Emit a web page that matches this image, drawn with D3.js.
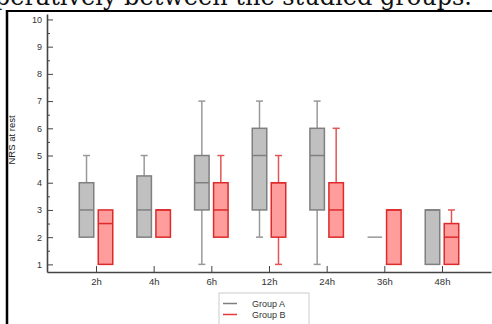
<!DOCTYPE html>
<html>
<head>
<meta charset="utf-8">
<title>NRS at rest boxplot</title>
<script src="https://d3js.org/d3.v7.min.js"></script>
<style>
  body { margin: 0; background: #fff; }
  svg { display: block; font-family: "Liberation Sans", Arial, sans-serif; }
  .axis text { font-size: 9px; fill: #333; }
  .axis path, .axis line { stroke: #444; }
</style>
</head>
<body>
<svg id="chart" width="492" height="324"></svg>
<script>
// time points on the x axis
const times = ["2h", "4h", "6h", "12h", "24h", "36h", "48h"];
const groups = ["Group A", "Group B"];
const yTicks = [1, 2, 3, 4, 5, 6, 7, 8, 9, 10];

// five number summaries: [min, q1, median, q3, max]
const groupA = [
  [2, 2, 3, 4, 5],
  [2, 2, 3, 4.25, 5],
  [1, 3, 4, 5, 7],
  [2, 3, 5, 6, 7],
  [1, 3, 5, 6, 7],
  [2, 2, 2, 2, 2],
  [1, 1, 3, 3, 3]
];
const groupB = [
  [1, 1, 2.5, 3, 3],
  [2, 2, 3, 3, 3],
  [2, 2, 3, 4, 5],
  [1, 2, 4, 4, 5],
  [2, 2, 3, 4, 6],
  [1, 1, 3, 3, 3],
  [1, 1, 2, 2.5, 3]
];

const svg = d3.select("#chart");

// caption remains from the page the figure was cut from
svg.append("text")
  .attr("x", 472).attr("y", 4.5)
  .attr("text-anchor", "end")
  .style("font-family", "'DejaVu Serif', serif")
  .style("font-size", "24px")
  .attr("fill", "#111")
  .text("operatively between the studied groups.");

svg.append("line").attr("x1", 6).attr("x2", 492).attr("y1", 11).attr("y2", 11)
  .attr("stroke", "#000").attr("stroke-width", 2);
svg.append("line").attr("x1", 7).attr("x2", 7).attr("y1", 10).attr("y2", 324)
  .attr("stroke", "#000").attr("stroke-width", 2.5);

const x = d3.scalePoint().domain(times).range([47, 491]).padding(0.85);
const y = d3.scaleLinear().domain([0.72, 10.2]).range([272, 14]);

// minor ticks
svg.append("g").attr("class", "axis")
  .attr("transform", "translate(47,0)")
  .call(d3.axisLeft(y).tickValues(d3.range(1.5, 10, 1)).tickSize(-3).tickSizeOuter(0).tickFormat(""))
  .call(g => g.select(".domain").remove());

svg.append("g").attr("class", "axis")
  .attr("transform", "translate(47,0)")
  .call(d3.axisLeft(y).tickValues(yTicks).tickSize(-6).tickSizeOuter(0).tickPadding(5))
  .call(g => g.select(".domain").attr("stroke-width", 1.6));

svg.append("g").attr("class", "axis")
  .attr("transform", "translate(0,272)")
  .call(d3.axisBottom(x).tickSize(-6).tickSizeOuter(0).tickPadding(6))
  .call(g => g.select(".domain").attr("stroke-width", 1.6))
  .call(g => g.selectAll(".tick text").style("font-size", "9.5px"));

svg.append("text")
  .attr("transform", "translate(15,140) rotate(-90)")
  .attr("text-anchor", "middle")
  .style("font-size", "9.5px")
  .attr("fill", "#222")
  .text("NRS at rest");

const styles = [
  { off: -9.5, fill: "#c0c0c0", stroke: "#7f7f7f", whisk: "#999" },
  { off: 9.5, fill: "#ff9c9c", stroke: "#dd2a2a", whisk: "#e05555" }
];
const boxW = 14.5, capW = 7;

[groupA, groupB].forEach((series, gi) => {
  const s = styles[gi];
  const g = svg.append("g");
  series.forEach((d, i) => {
    const cx = x(times[i]) + s.off;
    const [mn, q1, md, q3, mx] = d;
    if (mx > q3) {
      g.append("line").attr("x1", cx).attr("x2", cx).attr("y1", y(q3)).attr("y2", y(mx))
        .attr("stroke", s.whisk).attr("stroke-width", 1.5);
      g.append("line").attr("x1", cx - capW / 2).attr("x2", cx + capW / 2).attr("y1", y(mx)).attr("y2", y(mx))
        .attr("stroke", s.whisk).attr("stroke-width", 1.5);
    }
    if (mn < q1) {
      g.append("line").attr("x1", cx).attr("x2", cx).attr("y1", y(q1)).attr("y2", y(mn))
        .attr("stroke", s.whisk).attr("stroke-width", 1.5);
      g.append("line").attr("x1", cx - capW / 2).attr("x2", cx + capW / 2).attr("y1", y(mn)).attr("y2", y(mn))
        .attr("stroke", s.whisk).attr("stroke-width", 1.5);
    }
    if (q3 > q1) {
      g.append("rect").attr("x", cx - boxW / 2).attr("width", boxW)
        .attr("y", y(q3)).attr("height", y(q1) - y(q3))
        .attr("fill", s.fill).attr("stroke", s.stroke).attr("stroke-width", 1.5);
    }
    g.append("line").attr("x1", cx - boxW / 2).attr("x2", cx + boxW / 2).attr("y1", y(md)).attr("y2", y(md))
      .attr("stroke", q3 > q1 ? s.stroke : s.whisk).attr("stroke-width", 1.5);
  });
});

// legend
const leg = svg.append("g").attr("transform", "translate(219,293)");
leg.append("rect").attr("width", 90).attr("height", 40).attr("fill", "#fff").attr("stroke", "#ccc");
groups.forEach((name, i) => {
  const ly = 10.5 + i * 11;
  leg.append("line").attr("x1", 4).attr("x2", 18).attr("y1", ly).attr("y2", ly)
    .attr("stroke", i === 0 ? "#7f7f7f" : "#e03a3a").attr("stroke-width", 1.5);
  leg.append("text").attr("x", 33).attr("y", ly).attr("dy", "0.35em")
    .style("font-size", "9px").attr("fill", "#333").text(name);
});
</script>
</body>
</html>
